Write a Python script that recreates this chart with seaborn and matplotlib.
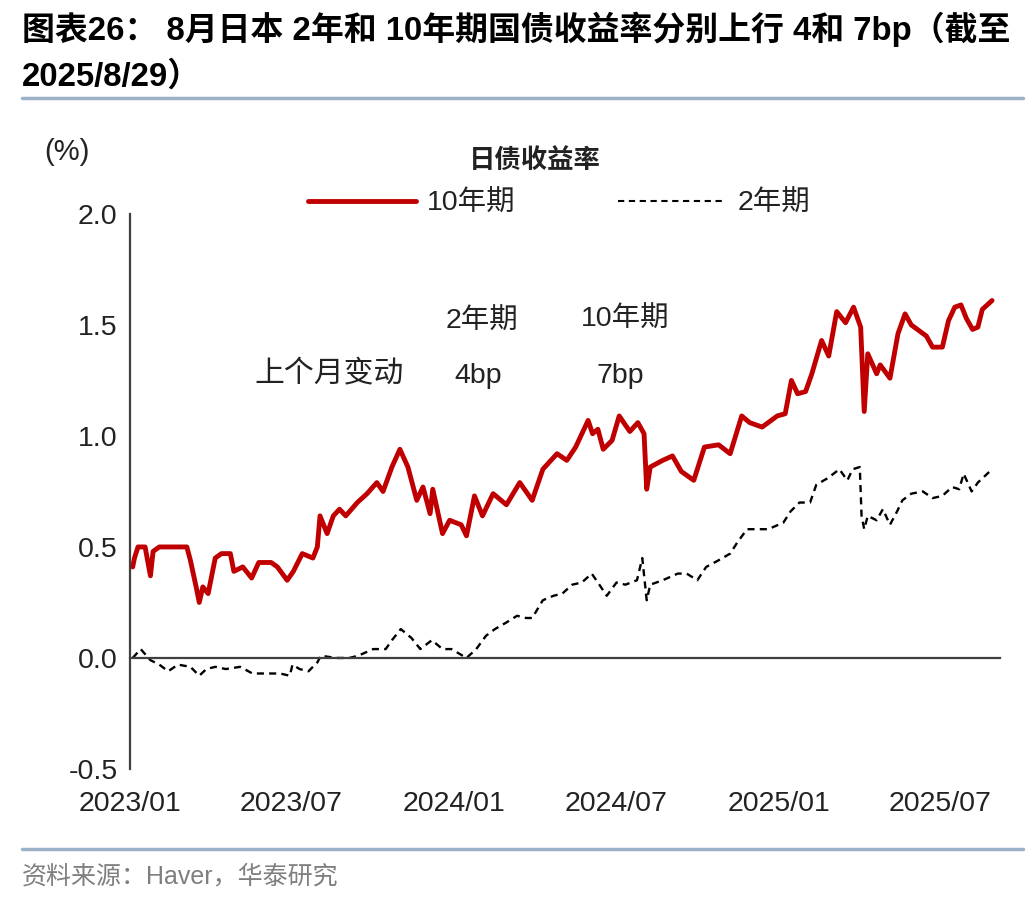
import matplotlib
matplotlib.use("Agg")
import matplotlib.pyplot as plt
import matplotlib.dates as mdates
from matplotlib.lines import Line2D
import seaborn as sns
import pandas as pd

# 10年期 日本国债收益率 (%)
dates10 = ["2023-01-04", "2023-01-06", "2023-01-10", "2023-01-18", "2023-01-24", "2023-01-27",
           "2023-02-03", "2023-02-21", "2023-03-06", "2023-03-10", "2023-03-17", "2023-03-20",
           "2023-03-24", "2023-03-30", "2023-04-07", "2023-04-14", "2023-04-24", "2023-04-28",
           "2023-05-08", "2023-05-18", "2023-05-26", "2023-06-09", "2023-06-16", "2023-06-27",
           "2023-07-04", "2023-07-14", "2023-07-26", "2023-07-31", "2023-08-03", "2023-08-11",
           "2023-08-18", "2023-08-25", "2023-09-01", "2023-09-14", "2023-09-25", "2023-10-06",
           "2023-10-13", "2023-10-23", "2023-11-01", "2023-11-10", "2023-11-20", "2023-11-27",
           "2023-12-05", "2023-12-08", "2023-12-19", "2023-12-27", "2024-01-09", "2024-01-15",
           "2024-01-24", "2024-02-02", "2024-02-14", "2024-02-29", "2024-03-15", "2024-03-29",
           "2024-04-10", "2024-04-26", "2024-05-07", "2024-05-17", "2024-05-31", "2024-06-05",
           "2024-06-11", "2024-06-17", "2024-06-27", "2024-07-05", "2024-07-17", "2024-07-26",
           "2024-08-02", "2024-08-05", "2024-08-09", "2024-08-23", "2024-09-03", "2024-09-13",
           "2024-09-27", "2024-10-09", "2024-10-25", "2024-11-07", "2024-11-20", "2024-11-29",
           "2024-12-13", "2024-12-30", "2025-01-08", "2025-01-15", "2025-01-22", "2025-01-31",
           "2025-02-07", "2025-02-18", "2025-02-26", "2025-03-07", "2025-03-17", "2025-03-26",
           "2025-04-03", "2025-04-07", "2025-04-11", "2025-04-21", "2025-04-25", "2025-05-06",
           "2025-05-15", "2025-05-23", "2025-05-30", "2025-06-16", "2025-06-23", "2025-07-04",
           "2025-07-11", "2025-07-18", "2025-07-25", "2025-07-31", "2025-08-07", "2025-08-13",
           "2025-08-18", "2025-08-29"]
vals10 = [0.41, 0.45, 0.50, 0.50, 0.37, 0.48, 0.50, 0.50, 0.50, 0.44, 0.31, 0.25,
          0.32, 0.29, 0.45, 0.47, 0.47, 0.39, 0.41, 0.36, 0.43, 0.43, 0.41, 0.35,
          0.39, 0.47, 0.45, 0.50, 0.64, 0.56, 0.64, 0.67, 0.64, 0.70, 0.74, 0.79,
          0.75, 0.86, 0.94, 0.86, 0.71, 0.77, 0.65, 0.76, 0.56, 0.62, 0.60, 0.55,
          0.73, 0.64, 0.74, 0.69, 0.79, 0.71, 0.85, 0.92, 0.89, 0.95, 1.07, 1.01,
          1.03, 0.94, 0.98, 1.09, 1.02, 1.06, 1.01, 0.76, 0.86, 0.89, 0.91, 0.84,
          0.80, 0.95, 0.96, 0.92, 1.09, 1.06, 1.04, 1.09, 1.10, 1.25, 1.19, 1.20,
          1.28, 1.43, 1.36, 1.56, 1.51, 1.58, 1.49, 1.11, 1.37, 1.28, 1.32, 1.26,
          1.46, 1.55, 1.50, 1.45, 1.40, 1.40, 1.52, 1.58, 1.59, 1.53, 1.48, 1.49,
          1.57, 1.61]

# 2年期 日本国债收益率 (%)
dates2 = ["2023-01-04", "2023-01-13", "2023-01-24", "2023-02-03", "2023-02-13", "2023-02-24",
          "2023-03-10", "2023-03-20", "2023-03-28", "2023-04-07", "2023-04-19", "2023-05-05",
          "2023-05-19", "2023-06-02", "2023-06-19", "2023-06-30", "2023-07-03", "2023-07-11",
          "2023-07-21", "2023-07-31", "2023-08-04", "2023-08-21", "2023-09-05", "2023-09-15",
          "2023-10-02", "2023-10-16", "2023-10-23", "2023-11-02", "2023-11-14", "2023-11-24",
          "2023-12-07", "2023-12-19", "2023-12-29", "2024-01-15", "2024-01-26", "2024-02-06",
          "2024-02-16", "2024-02-29", "2024-03-12", "2024-03-22", "2024-03-29", "2024-04-10",
          "2024-04-22", "2024-05-02", "2024-05-13", "2024-05-24", "2024-06-04", "2024-06-11",
          "2024-06-21", "2024-07-02", "2024-07-12", "2024-07-25", "2024-07-31", "2024-08-05",
          "2024-08-09", "2024-08-23", "2024-09-09", "2024-09-19", "2024-10-01", "2024-10-11",
          "2024-10-25", "2024-11-07", "2024-11-15", "2024-11-26", "2024-12-06", "2024-12-20",
          "2025-01-06", "2025-01-14", "2025-01-24", "2025-02-05", "2025-02-12", "2025-02-25",
          "2025-03-10", "2025-03-19", "2025-03-25", "2025-04-02", "2025-04-04", "2025-04-07",
          "2025-04-11", "2025-04-21", "2025-04-28", "2025-05-06", "2025-05-14", "2025-05-20",
          "2025-05-30", "2025-06-12", "2025-06-23", "2025-07-04", "2025-07-15", "2025-07-23",
          "2025-07-28", "2025-08-06", "2025-08-13", "2025-08-29"]
vals2 = [0.00, 0.04, -0.01, -0.03, -0.06, -0.03, -0.04, -0.08, -0.05, -0.04, -0.05, -0.04,
         -0.07, -0.07, -0.07, -0.08, -0.03, -0.05, -0.06, -0.02, 0.01, 0.00, 0.00, 0.01,
         0.04, 0.04, 0.08, 0.13, 0.09, 0.04, 0.08, 0.04, 0.04, 0.00, 0.04, 0.10,
         0.13, 0.16, 0.19, 0.18, 0.18, 0.26, 0.28, 0.29, 0.33, 0.34, 0.38, 0.34,
         0.28, 0.34, 0.33, 0.35, 0.45, 0.26, 0.33, 0.35, 0.38, 0.38, 0.35, 0.41,
         0.44, 0.47, 0.52, 0.58, 0.58, 0.58, 0.61, 0.66, 0.70, 0.70, 0.78, 0.81,
         0.85, 0.80, 0.85, 0.86, 0.64, 0.58, 0.64, 0.62, 0.67, 0.60, 0.66, 0.71,
         0.74, 0.75, 0.72, 0.73, 0.77, 0.76, 0.83, 0.75, 0.79, 0.85]

tick_dates = ["2023-01-01", "2023-07-01", "2024-01-01", "2024-07-01", "2025-01-01", "2025-07-01"]
y_ticks = [-0.5, 0.0, 0.5, 1.0, 1.5, 2.0]

df10 = pd.DataFrame({"date": pd.to_datetime(dates10), "val": vals10})
df2 = pd.DataFrame({"date": pd.to_datetime(dates2), "val": vals2})

sns.set_style("white")
plt.rcParams["font.family"] = ["Liberation Sans", "Noto Sans CJK SC", "DejaVu Sans"]
plt.rcParams["axes.unicode_minus"] = False

RED = "#C00000"
TXT = "#222222"
AX = "#404040"

fig = plt.figure(figsize=(10.36, 9), dpi=100)
ax = fig.add_axes([0.1255, 0.1456, 0.8398, 0.6167])

sns.lineplot(data=df10, x="date", y="val", ax=ax, color=RED, lw=3.5)
sns.lineplot(data=df2, x="date", y="val", ax=ax, color="black", lw=1.7,
             linestyle=(0, (3, 2.2)))

ax.set_xlim(pd.Timestamp("2023-01-01"), pd.Timestamp("2025-09-07"))
ax.set_ylim(-0.5, 2.0)
ax.set_xlabel("")
ax.set_ylabel("")

ax.set_yticks(y_ticks)
ax.set_yticklabels([f"{v:.1f}" for v in y_ticks])
ax.set_xticks(pd.to_datetime(tick_dates))
ax.xaxis.set_major_formatter(mdates.DateFormatter("%Y/%m"))

for s in ["top", "right"]:
    ax.spines[s].set_visible(False)
ax.spines["bottom"].set_position(("data", 0))
for s in ["left", "bottom"]:
    ax.spines[s].set_color(AX)
    ax.spines[s].set_linewidth(1.6)

ax.tick_params(axis="y", direction="out", length=6, width=1.6, color=AX,
               labelsize=20.5, labelcolor=TXT, pad=3)
ax.tick_params(axis="x", direction="out", length=7, width=1.6, color=AX,
               labelsize=20.5, labelcolor=TXT, pad=89)

# 注释
ax.text(0.4046, 0.805, "2年期", transform=ax.transAxes, ha="center", va="center",
        fontsize=20.5, color=TXT)
ax.text(0.569, 0.809, "10年期", transform=ax.transAxes, ha="center", va="center",
        fontsize=20.5, color=TXT)
ax.text(0.2287, 0.710, "上个月变动", transform=ax.transAxes, ha="center", va="center",
        fontsize=21.5, color=TXT)
ax.text(0.40, 0.708, "4bp", transform=ax.transAxes, ha="center", va="center",
        fontsize=20.5, color=TXT)
ax.text(0.564, 0.708, "7bp", transform=ax.transAxes, ha="center", va="center",
        fontsize=20.5, color=TXT)

# 图例
handles = [Line2D([], [], color=RED, lw=3.5),
           Line2D([], [], color="black", lw=1.5, linestyle=(0, (3, 2.2)))]
leg = fig.legend(handles, ["10年期", "2年期"], loc="center", ncol=2,
                 bbox_to_anchor=(0.5396, 0.7733), frameon=False, fontsize=20.5,
                 handlelength=3.8, handletextpad=0.4, columnspacing=3.6, borderpad=0)
for t in leg.get_texts():
    t.set_color(TXT)
fig.text(0.516, 0.822, "日债收益率", ha="center", va="center", fontsize=19,
         fontweight="bold", color=TXT)
fig.text(0.043, 0.831, "(%)", ha="left", va="center", fontsize=21, color=TXT)

# 标题
fig.text(0.021, 0.967, "图表26： 8月日本 2年和 10年期国债收益率分别上行 4和 7bp（截至",
         ha="left", va="center", fontsize=23.7, fontweight="bold", color="black")
fig.text(0.021, 0.914, "2025/8/29）", ha="left", va="center", fontsize=23.7,
         fontweight="bold", color="black")

rule = "#9DB2C9"
fig.add_artist(Line2D([0.021, 0.987], [1 - 98 / 900] * 2, color=rule, lw=2.5))
fig.add_artist(Line2D([0.021, 0.987], [1 - 849 / 900] * 2, color=rule, lw=2.5))

fig.text(0.021, 0.0267, "资料来源：Haver，华泰研究", ha="left", va="center",
         fontsize=18, color="#7F7F7F")

fig.savefig("out.png", dpi=100)
